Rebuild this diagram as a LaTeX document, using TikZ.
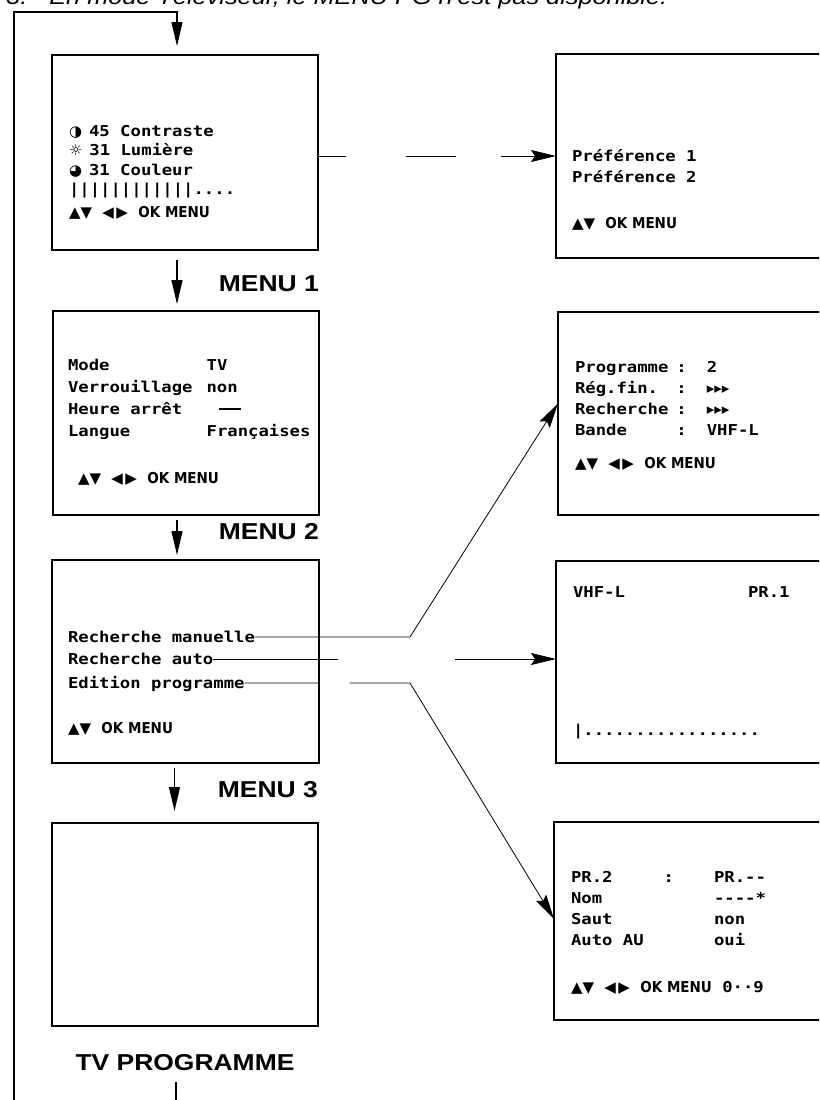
\documentclass[tikz,border=0pt]{standalone}
\usepackage{fontspec}
\usetikzlibrary{arrows.meta,positioning,calc}
\newfontfamily\osdfamily{DejaVu Sans Mono}[FakeStretch=1.15]
\newfontfamily\glyphfamily{DejaVu Sans}
\newfontfamily\keyfamily{DejaVu Sans Condensed}
\newfontfamily\labelfamily{Liberation Sans}[FakeStretch=1.15]
\newcommand{\osd}{\osdfamily\bfseries\fontsize{15}{21}\selectfont}
\newcommand{\osdkeys}[1]{{\glyphfamily\fontsize{15}{15}\selectfont #1}}
\newcommand{\okmenu}{{\keyfamily\bfseries\fontsize{15}{15}\selectfont OK MENU}}
\newcommand{\screenrows}[1]{\begin{tabular}[t]{@{}l@{}}#1\end{tabular}}
\tikzset{
	screen/.style={draw, line width=1.2pt, inner sep=0pt, outer sep=0pt},
	osdtext/.style={inner sep=0pt, outer sep=0pt, font=\osd, anchor=base west},
	osdline/.style={inner sep=0pt, outer sep=0pt, font=\osd, anchor=west, text height=10pt, text depth=0pt},
	menulabel/.style={inner sep=0pt, font=\labelfamily\bfseries\fontsize{23}{26}\selectfont},
	flow/.style={-{Triangle[length=24pt,width=11pt]}, line width=1.2pt},
	link/.style={-{Stealth[length=25pt,width=12pt,inset=4pt]}, line width=0.8pt}
}
\begin{document}
\begin{tikzpicture}[x=1pt, y=-1pt]
	\useasboundingbox (0,0) rectangle (819,1100);
	\clip (0,0) rectangle (819,1100);
	% note cut by the top of the page
	\node[inner sep=0pt, anchor=base west, font=\labelfamily\itshape\fontsize{22}{24}\selectfont] (note) at (6,5) {3.\quad En mode Téléviseur, le MENU PG n'est pas disponible.};
	% menu screens
	\node[screen, minimum width=266pt, minimum height=195pt] (m1) at (185,152.5) {};
	\node[screen, minimum width=266pt, minimum height=204pt] (m2) at (186,413) {};
	\node[screen, minimum width=267pt, minimum height=203pt] (m3) at (185.5,661.5) {};
	\node[screen, minimum width=266pt, minimum height=203pt] (m4) at (185,924.5) {};
	% sub screens, right side runs off the page
	\node[screen, minimum width=280pt, minimum height=204pt] (r1) at (696,156) {};
	\node[screen, minimum width=280pt, minimum height=203pt] (r2) at (698,413.5) {};
	\node[screen, minimum width=280pt, minimum height=202pt] (r3) at (696,662) {};
	\node[screen, minimum width=280pt, minimum height=198pt] (r4) at (694,921) {};
	\node[osdtext] (m1txt) at (69,136) {\screenrows{\osdkeys{◑}\hspace{7pt}45 Contraste\\[-1.5pt] \osdkeys{☼}\hspace{7pt}31 Lumière\\[-1.5pt] \osdkeys{◕}\hspace{7pt}31 Couleur\\[-1.5pt] ||||||||||||....\\[2pt] \osdkeys{▲▼} \osdkeys{◀\,▶} \okmenu}};
	\node[osdtext] (m2txt) at (68,370) {\begin{tabular}[t]{@{}l@{\hspace{14pt}}l}
			Mode & TV\\[1pt]
			Verrouillage & non\\[1pt]
			Heure arrêt & \hspace{12pt}\rule[4pt]{22pt}{2pt}\\[1pt]
			Langue & Françaises\\[26pt]
			\multicolumn{2}{@{}l}{\hspace{10pt}\osdkeys{▲▼} \osdkeys{◀\,▶} \okmenu}
	\end{tabular}};
	\node[osdline] (rman) at (68,637) {Recherche manuelle};
	\node[osdline] (rauto) at (68,659) {Recherche auto};
	\node[osdline] (redit) at (68,683) {Edition programme};
	\node[osdtext] (m3nav) at (68,733) {\osdkeys{▲▼} \okmenu};
	\node[osdtext] (r1txt) at (572,161) {\screenrows{Préférence 1\\ Préférence 2\\[25pt] \osdkeys{▲▼} \okmenu}};
	\node[osdtext] (r2txt) at (575,372) {\begin{tabular}[t]{@{}l@{\hspace{8pt}}l@{\hspace{20pt}}l}
			Programme & : & 2\\
			Rég.fin. & : & \osdkeys{▸▸▸}\\
			Recherche & : & \osdkeys{▸▸▸}\\
			Bande & : & VHF-L\\[12pt]
			\multicolumn{3}{@{}l}{\osdkeys{▲▼} \osdkeys{◀\,▶} \okmenu}
	\end{tabular}};
	\node[osdtext] (band) at (573,597) {VHF-L};
	\node[osdtext] (prog) at (748,597) {PR.1};
	\node[osdtext] (level) at (573,735) {|.................};
	\node[osdtext] (r4txt) at (571,882) {\begin{tabular}[t]{@{}l@{\hspace{20pt}}l@{\hspace{40pt}}l}
			PR.2 & : & PR.--\\
			Nom & & ----*\\
			Saut & & non\\
			Auto AU & & oui\\[26pt]
			\multicolumn{3}{@{}l}{\osdkeys{▲▼} \osdkeys{◀\,▶} \okmenu\ 0··9}
	\end{tabular}};
	% labels
	\node[menulabel, anchor=base east] (lab1) at ([yshift=20pt]m2.north east) {MENU 1};
	\node[menulabel, anchor=base east] (lab2) at ([yshift=21pt]m3.north east) {MENU 2};
	\node[menulabel, anchor=base east] (lab3) at ([yshift=26pt]m4.north east) {MENU 3};
	\node[menulabel, anchor=base] (tvlab) at ([yshift=-44pt]m4.south) {TV PROGRAMME};
	% flow down the menus and back round
	\draw[flow, shorten >=9pt] ([xshift=-9pt,yshift=-12pt]tvlab.base) -- ++(0,40) -| (14,12) -| ([xshift=-8pt]m1.north);
	\draw[flow, shorten <=10pt, shorten >=7pt] ([xshift=-8pt]m1.south) -- ([xshift=-8pt]m1.south |- m2.north);
	\draw[flow, shorten <=5pt, shorten >=5pt] ([xshift=-9pt]m2.south) -- ([xshift=-9pt]m2.south |- m3.north);
	\draw[flow, shorten <=5pt, shorten >=12pt] ([xshift=-11pt]m3.south) -- ([xshift=-11pt]m3.south |- m4.north);
	% links to the sub screens
	\draw[link, line width=1pt, dash pattern=on 28pt off 60pt on 50pt off 45pt on 200pt] (m1.east |- r1.west) -- (r1.west);
	\coordinate (mbend) at (410,637);
	\coordinate (ebend) at (410,683);
	\draw[link] (rman.east) -- (mbend) -- ([yshift=10pt]r2.west);
	\draw[link, dash pattern=on 125pt off 117pt on 300pt] (rauto.east) -- (rauto.east -| r3.west);
	\draw[link, dash pattern=on 75pt off 30pt on 800pt] (redit.east) -- (ebend) -- ([yshift=2pt]r4.west);
\end{tikzpicture}
\end{document}
